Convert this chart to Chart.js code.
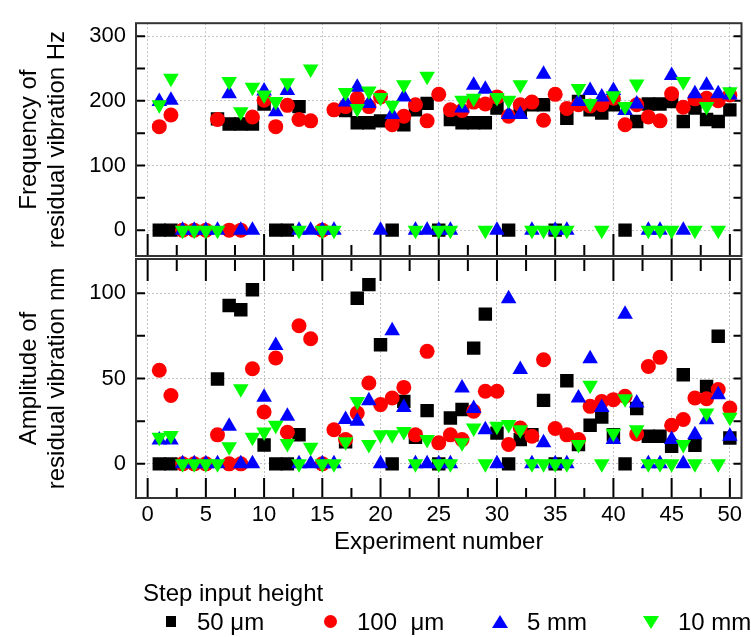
<!DOCTYPE html>
<html>
<head>
<meta charset="utf-8">
<script src="https://cdn.jsdelivr.net/npm/chart.js@4.4.1/dist/chart.umd.min.js"></script>
<style>
  body {
    margin: 0;
    width: 751px;
    height: 637px;
    background: #fff;
    position: relative;
    overflow: hidden;
    font-family: "Liberation Sans", Arial, sans-serif;
  }
  canvas { position: absolute; left: 0; top: 0; }
  .lg { position: absolute; font-size: 24px; line-height: 28px; color: #000; white-space: pre; }
  .mk { position: absolute; }
  .sq { width: 10px; height: 11px; background: #000; }
  .ci { width: 13px; height: 13px; border-radius: 50%; background: #ff0000; }
  .up { width: 0; height: 0; border-left: 8px solid transparent; border-right: 8px solid transparent; border-bottom: 13px solid #0000ff; }
  .dn { width: 0; height: 0; border-left: 8px solid transparent; border-right: 8px solid transparent; border-top: 13px solid #00ff00; }
</style>
</head>
<body>
<canvas id="freqChart" width="751" height="637"></canvas>
<canvas id="ampChart" width="751" height="637"></canvas>

<div class="lg" style="left:143px; top:579px;">Step input height</div>
<div class="mk sq" style="left:166px; top:616px;"></div>
<div class="lg" style="left:197px; top:608px;">50 μm</div>
<div class="mk ci" style="left:324px; top:615px;"></div>
<div class="lg" style="left:357px; top:608px;">100  μm</div>
<div class="mk up" style="left:492px; top:615px;"></div>
<div class="lg" style="left:527px; top:608px;">5 mm</div>
<div class="mk dn" style="left:643px; top:616px;"></div>
<div class="lg" style="left:678px; top:608px;">10 mm</div>

<script>
const experiments = [
  1, 2, 3, 4, 5, 6, 7, 8, 9, 10, 11, 12, 13, 14, 15, 16, 17, 18, 19, 20, 21, 22, 23, 24, 25,
  26, 27, 28, 29, 30, 31, 32, 33, 34, 35, 36, 37, 38, 39, 40, 41, 42, 43, 44, 45, 46, 47, 48, 49, 50,
];

// frequency of residual vibration (Hz)
const freq50um = [
  0, 0, null, null, null, 172, 164, 164, 164, 195, 0, 0, 191, null, null, null, 185, 166, 166, 169, 0, 163, 186, 196, 0,
  171, 166, 166, 166, 189, 0, 185, 194, 194, 0, 173, 199, 186, 181, 194, 0, 168, 195, 195, 199, 168, 189, 171, 168, 186,
];
const freq100um = [
  160, 178, 0, 0, 0, 171, 0, 0, 175, 201, 160, 193, 171, 169, 0, 186, 191, 204, 191, 206, 163, 176, 194, 169, 210,
  186, 185, 198, 195, 206, 176, 194, 198, 170, 210, 188, 194, 192, 194, 204, 163, 194, 175, 169, 211, 190, 203, 204, 200, 209,
];
const freq5mm = [
  199, 201, 0, 0, 0, 0, 211, 0, 0, 215, 183, 216, 0, 0, 0, 0, 198, 221, 196, 0, 179, 206, 0, 0, 0,
  0, 189, 224, 218, 0, 179, 179, 0, 241, 0, 0, 199, 216, 206, 216, 185, 195, 0, 0, 239, 0, 211, 224, 211, 209,
];
const freq10mm = [
  194, 235, 0, 0, 0, 0, 230, 183, 221, 209, 199, 228, 0, 249, 0, 0, 213, 188, 215, 205, 193, 225, 0, 238, 0,
  0, 201, 204, 0, 205, 201, 225, 0, 0, 0, 0, 219, 196, 0, 208, 191, 226, 0, 0, 0, 230, 0, 191, 0, 214,
];

// amplitude of residual vibration (nm)
const amp50um = [
  0, 0, null, null, null, 49.7, 92.8, 90.3, 102, 11, 0, 0, 17, null, null, null, 12.9, 97, 105, 69.8, 0, 36.6, 15.6, 31.2, 0,
  26.9, 31.8, 67.8, 87.7, 18, 0, 14.2, 17, 37.2, 0, 48.7, 11.3, 22.6, 27.5, 17, 0, 32.4, 16.2, 16.2, 10.3, 52.2, 10.9, 45.4, 74.7, 15.2,
];
const amp100um = [
  54.8, 40, 0, 0, 0, 17, 0, 0, 55.7, 30.4, 62, 18.5, 80.9, 73.3, 0, 20, 14.2, 29.8, 47.4, 34.7, 38.6, 44.8, 17, 65.9, 12.3,
  17, 14.2, 30.8, 42.5, 42.5, 11.3, 21, 16.2, 61, 20.7, 17, 14.2, 33.7, 36.6, 37.6, 39.6, 17.5, 57, 62.4, 22.6, 26, 38.6, 38.2, 43.5, 32.7,
];
const amp5mm = [
  14, 14, 0, 0, 0, 0, 22, 0, 0, 39, 69.4, 27.9, 0, 0, 0, 0, 26, 25, 37, 0, 78, 33, 0, 0, 0,
  0, 44.4, 32.4, 20, 0, 96.7, 55.2, 0, 12.3, 0, 0, 38.6, 61.6, 33, 14.2, 87.7, 35.7, 0, 0, 14.2, 0, 17, 25.9, 40.5, 16.2,
];
const amp10mm = [
  15.6, 16.6, 0, 0, 0, 0, 10, 44, 15.6, 18.7, 22.6, 11.9, 0, 9.7, 0, 0, 12.9, 36.6, 11.3, 17, 17, 19, 0, 14.2, 0,
  0, 12.3, 21, 0, 22, 23, 20, 0, 0, 0, 0, 11.3, 46, 0, 18, 38.2, 20, 0, 0, 0, 11.3, 0, 29.8, 0, 27.3,
];

const seriesNames = ["50 μm", "100  μm", "5 mm", "10 mm"];

const expTicks = [0, 5, 10, 15, 20, 25, 30, 35, 40, 45, 50];
const expMinorTicks = [2.5, 7.5, 12.5, 17.5, 22.5, 27.5, 32.5, 37.5, 42.5, 47.5];
const freqTicks = [0, 100, 200, 300];
const freqMinorTicks = [50, 150, 250];
const ampTicks = [0, 50, 100];
const ampMinorTicks = [25, 75];

const FONT = "'Liberation Sans', Arial, sans-serif";

function toPoints(values) {
  return experiments.map((x, i) => ({ x: x, y: values[i] }));
}

function makeDatasets(black, red, blue, green) {
  return [
    { label: seriesNames[0], data: toPoints(black), pointStyle: "rect", pointRadius: 9.5, backgroundColor: "#000000", order: 3 },
    { label: seriesNames[1], data: toPoints(red), pointStyle: "circle", pointRadius: 7.5, backgroundColor: "#ff0000", order: 2 },
    { label: seriesNames[2], data: toPoints(blue), pointStyle: "triangle", pointRadius: 9, backgroundColor: "#0000ff", order: 1 },
    { label: seriesNames[3], data: toPoints(green), pointStyle: "triangle", pointRotation: 180, pointRadius: 9, backgroundColor: "#00ff00", order: 0 },
  ].map((ds) => ({ ...ds, borderWidth: 0, pointHoverRadius: ds.pointRadius, showLine: false }));
}

// inward tick marks and the frame round the plot area
const frameTicks = {
  id: "frameTicks",
  beforeDatasetsDraw(chart, args, opts) {
    const { ctx, chartArea: a, scales } = chart;
    ctx.save();
    ctx.strokeStyle = "#000";
    ctx.lineWidth = 2;
    ctx.beginPath();
    const xs = [[expTicks, 0], [expMinorTicks, 1]];
    xs.forEach(([vals, k]) => {
      vals.forEach((v) => {
        const px = scales.x.getPixelForValue(v);
        if (opts.top) {
          ctx.moveTo(px, a.top);
          ctx.lineTo(px, a.top + opts.top[k]);
        }
        if (opts.bottom) {
          ctx.moveTo(px, a.bottom);
          ctx.lineTo(px, a.bottom - opts.bottom[k]);
        }
      });
    });
    opts.yTicks.concat(opts.yMinor).forEach((v) => {
      const py = scales.y.getPixelForValue(v);
      ctx.moveTo(a.left, py);
      ctx.lineTo(a.left + 9, py);
      ctx.moveTo(a.right, py);
      ctx.lineTo(a.right - 8, py);
    });
    ctx.stroke();
    ctx.restore();
  },
  afterDatasetsDraw(chart) {
    const { ctx, chartArea: a } = chart;
    ctx.save();
    ctx.strokeStyle = "#333";
    ctx.lineWidth = 2;
    ctx.strokeRect(a.left, a.top, a.right - a.left, a.bottom - a.top);
    ctx.restore();
  },
};

function makeChart(canvasId, datasets, cfg) {
  return new Chart(document.getElementById(canvasId), {
    type: "scatter",
    data: { datasets: datasets },
    plugins: [frameTicks],
    options: {
      responsive: false,
      animation: false,
      layout: { padding: cfg.padding },
      plugins: {
        legend: { display: false },
        tooltip: { enabled: false },
        frameTicks: cfg.ticks,
      },
      scales: {
        x: {
          type: "linear",
          min: -1,
          max: 51,
          afterBuildTicks: (s) => { s.ticks = expTicks.map((v) => ({ value: v })); },
          afterFit: (s) => { s.height = cfg.xHeight; },
          grid: { color: "#c4c4c4", lineWidth: 1, drawTicks: false },
          border: { display: false, dash: [2, 2] },
          ticks: {
            display: cfg.xLabels,
            padding: 4,
            color: "#000",
            maxRotation: 0,
            autoSkip: false,
            font: { family: FONT, size: 22 },
          },
          title: {
            display: cfg.xLabels,
            text: "Experiment number",
            color: "#000",
            font: { family: FONT, size: 24, lineHeight: 1.2 },
            padding: { top: 0, bottom: 80 },
          },
        },
        y: {
          type: "linear",
          min: cfg.yMin,
          max: cfg.yMax,
          afterBuildTicks: (s) => { s.ticks = cfg.yTicks.map((v) => ({ value: v })); },
          afterFit: (s) => { s.width = 136; },
          grid: { color: "#c4c4c4", lineWidth: 1, drawTicks: false },
          border: { display: false, dash: [2, 2] },
          ticks: {
            padding: 10,
            color: "#000",
            font: { family: FONT, size: 22 },
          },
          title: {
            display: true,
            text: cfg.yTitle,
            color: "#000",
            font: { family: FONT, size: 24, lineHeight: 1.15 },
            padding: { top: 16, bottom: 0 },
          },
        },
      },
    },
  });
}

makeChart("freqChart", makeDatasets(freq50um, freq100um, freq5mm, freq10mm), {
  padding: { left: 0, right: 4, top: 16, bottom: 381 },
  xHeight: 0,
  xLabels: false,
  yMin: -40,
  yMax: 320,
  yTicks: freqTicks,
  yTitle: ["Frequency of", "residual vibration Hz"],
  ticks: { bottom: [22, 11], yTicks: freqTicks, yMinor: freqMinorTicks },
});

makeChart("ampChart", makeDatasets(amp50um, amp100um, amp5mm, amp10mm), {
  padding: { left: 0, right: 4, top: 259, bottom: 0 },
  xHeight: 139,
  xLabels: true,
  yMin: -20,
  yMax: 120,
  yTicks: ampTicks,
  yTitle: ["Amplitude of", "residual vibration nm"],
  ticks: { top: [22, 12], bottom: [20, 10], yTicks: ampTicks, yMinor: ampMinorTicks },
});
</script>
</body>
</html>
